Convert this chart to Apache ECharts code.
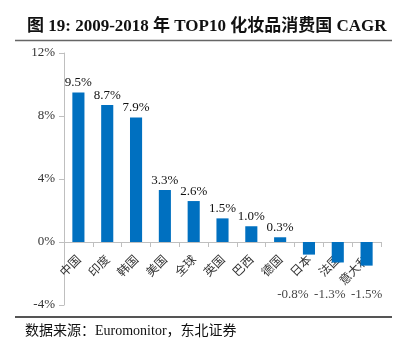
<!DOCTYPE html>
<html>
<head>
<meta charset="utf-8">
<script src="https://cdn.jsdelivr.net/npm/echarts@6/dist/echarts.min.js"></script>
<style>
  html, body { margin: 0; padding: 0; background: #fff; }
  #chart { width: 411px; height: 351px; }
</style>
</head>
<body>
<div id="chart"></div>
<script>
// 国家 及 CAGR (%)
var countries = ['中国', '印度', '韩国', '美国', '全球', '英国', '巴西', '德国', '日本', '法国', '意大利'];
var cagr = [9.5, 8.7, 7.9, 3.3, 2.6, 1.5, 1.0, 0.3, -0.8, -1.3, -1.5];
var yTicks = [-4, 0, 4, 8, 12];

// 负值标签统一放在轴标签下方, 并左移避让
var NEG_LABEL_AT = -3.35;
var negLabelShift = [-16, -8, 0];

var serif = '"Liberation Serif", "Times New Roman", "Noto Sans CJK SC", serif';
var cjk = '"Noto Sans CJK SC", sans-serif';

var GRID_TOP = 53, GRID_BOTTOM = 46, H = 351;
var yMin = yTicks[0], yMax = yTicks[yTicks.length - 1];
// x 轴放到 0 线上（整体上移）
var zeroOffset = -(H - GRID_TOP - GRID_BOTTOM) * (0 - yMin) / (yMax - yMin);

var chart = echarts.init(document.getElementById('chart'));

var negPoints = [];
cagr.forEach(function (v, i) {
    if (v < 0) {
        negPoints.push({
            value: [i, NEG_LABEL_AT], raw: v,
            label: { offset: [negLabelShift[negPoints.length] || 0, 0] }
        });
    }
});

var option = {
    animation: false,
    grid: { left: 64, right: 30, top: GRID_TOP, bottom: GRID_BOTTOM },
    graphic: [
        {
            type: 'text', left: 27, top: 18,
            style: {
                text: '图 19: 2009-2018 年 TOP10 化妆品消费国 CAGR',
                font: 'bold 17px ' + serif, fill: '#111'
            }
        },
        { type: 'line', shape: { x1: 15, y1: 40.5, x2: 392, y2: 40.5 }, style: { stroke: '#666', lineWidth: 1.5 } },
        { type: 'line', shape: { x1: 15, y1: 317, x2: 392, y2: 317 }, style: { stroke: '#555', lineWidth: 2 } },
        {
            type: 'text', left: 25, top: 324,
            style: { text: '数据来源：Euromonitor，东北证券', font: '14px ' + serif, fill: '#111' }
        }
    ],
    xAxis: {
        type: 'category',
        data: countries,
        offset: zeroOffset,
        z: 1,
        axisLine: { onZero: false, lineStyle: { color: '#bfbfbf' } },
        axisTick: { show: true, length: 5, alignWithLabel: false, lineStyle: { color: '#bfbfbf' } },
        axisLabel: {
            rotate: 45, interval: 0, margin: 15,
            fontFamily: cjk, fontSize: 12, color: '#333'
        }
    },
    yAxis: {
        type: 'value',
        min: yMin, max: yMax, interval: 4,
        axisLine: { show: true, lineStyle: { color: '#bfbfbf' } },
        axisTick: { show: true, length: 5, lineStyle: { color: '#bfbfbf' } },
        splitLine: { show: false },
        axisLabel: { formatter: '{value}%', fontFamily: serif, fontSize: 13, color: '#333', margin: 9 }
    },
    series: [
        {
            type: 'bar',
            data: cagr,
            barWidth: '42%',
            z: 3,
            itemStyle: { color: '#0070C0' },
            label: {
                show: true, position: 'top', distance: 3,
                fontFamily: serif, fontSize: 13, color: '#111',
                formatter: function (p) { return p.value >= 0 ? p.value.toFixed(1) + '%' : ''; }
            }
        },
        {
            type: 'scatter',
            data: negPoints,
            symbolSize: 0,
            silent: true,
            label: {
                show: true, position: 'inside',
                fontFamily: serif, fontSize: 13, color: '#111',
                formatter: function (p) { return p.data.raw.toFixed(1) + '%'; }
            }
        }
    ]
};
chart.setOption(option);
</script>
</body>
</html>
